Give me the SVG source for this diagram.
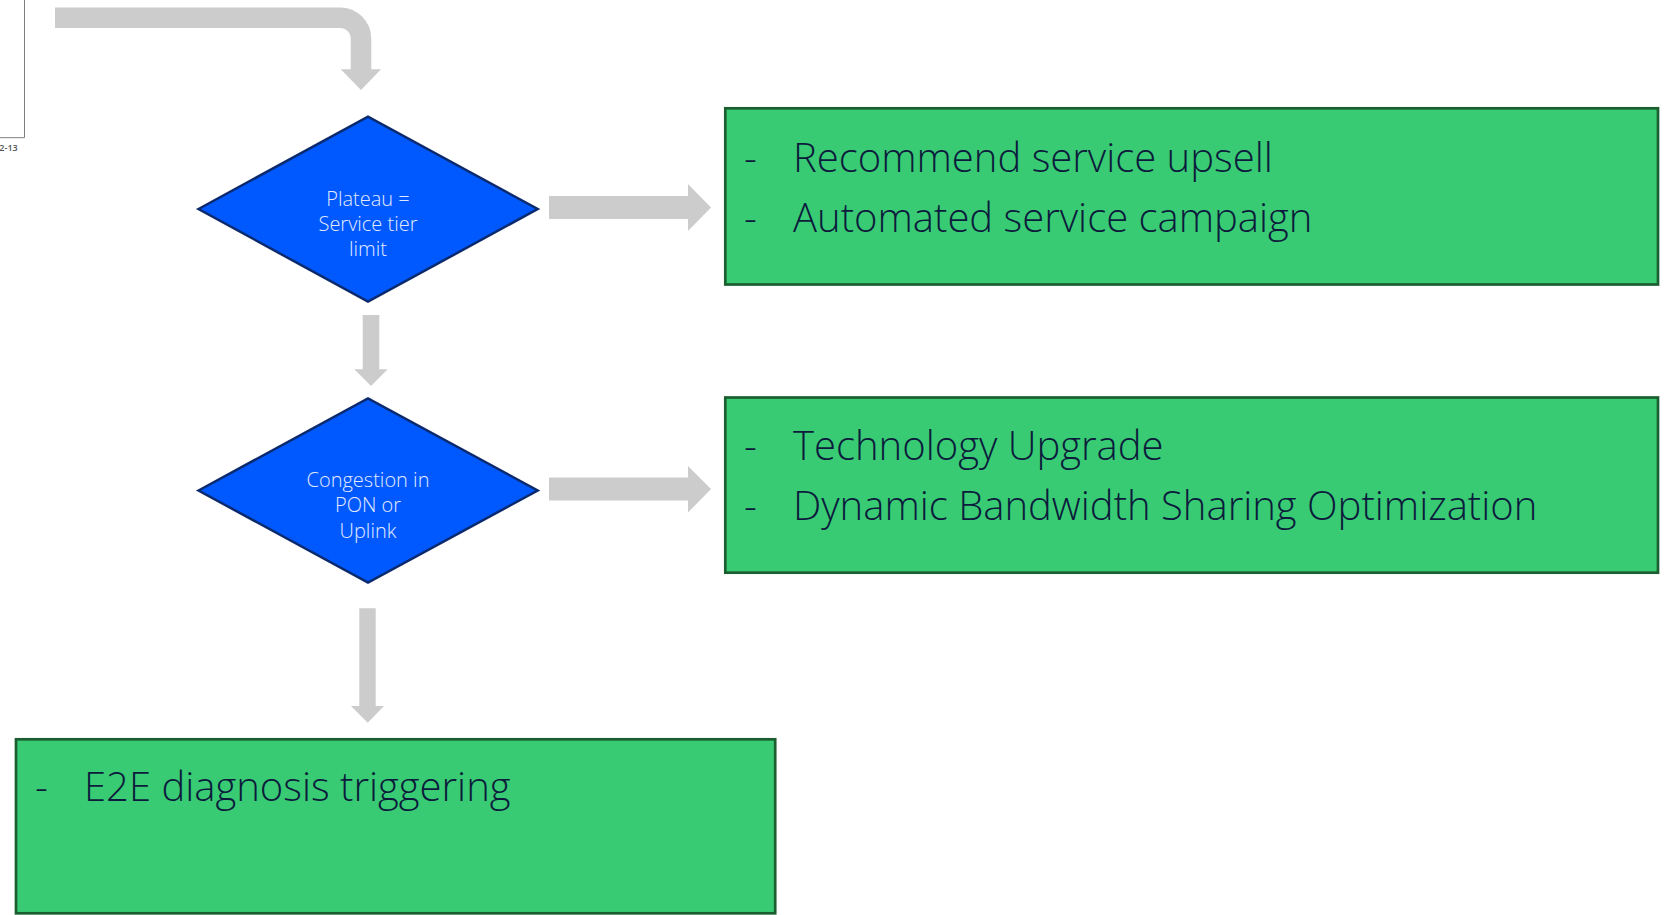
<svg xmlns="http://www.w3.org/2000/svg" width="1665" height="915" viewBox="0 0 1665 915">
<style>
.conn{fill:#cccccc;stroke:none}
.band{fill:none;stroke:#cccccc;stroke-width:20.5}
.dia{fill:#0059ff;stroke:#0b2a6e;stroke-width:2.5;stroke-linejoin:miter}
.dtxt{font-family:"Open Sans","Noto Sans","Liberation Sans",sans-serif;font-weight:300;font-size:20px;fill:#e3eaff;text-anchor:middle}
.box{fill:#38cb74;stroke:#1b5e30;stroke-width:2.7}
.btxt{font-family:"Open Sans","Noto Sans","Liberation Sans",sans-serif;font-weight:300;font-size:40px;fill:#0c1b3c}
.frame{fill:none;stroke:#7f7f7f;stroke-width:1}
.small{font-family:"Open Sans","Liberation Sans",sans-serif;font-weight:600;font-size:9px;fill:#555555;text-anchor:end}
</style>
<rect width="1665" height="915" fill="#ffffff"/>
<g id="page-fragment">
<path class="frame" d="M0,137.7 H24.5 V0"/>
<text class="small" x="17.7" y="151">2-13</text>
</g>
<g id="connectors">
<path class="band" d="M55,17.7 H340 A21,21 0 0 1 361,38.7 V70"/>
<polygon class="conn" points="340.7,69.3 381,69.3 361,90"/>
<polygon class="conn" points="549,196 688,196 688,184 711,207.5 688,231 688,219 549,219"/>
<polygon class="conn" points="362.7,315 379.3,315 379.3,369.3 387.7,369.3 371,386 354.3,369.3 362.7,369.3"/>
<polygon class="conn" points="549,477.5 688,477.5 688,466 711,489 688,512.5 688,500.5 549,500.5"/>
<polygon class="conn" points="359.3,608.3 375.7,608.3 375.7,706 384,706 367.7,722.7 351,706 359.3,706"/>
</g>
<g id="decision-plateau">
<polygon class="dia" points="198.5,209 368,116.7 537.7,209 368,301.7"/>
<text class="dtxt"><tspan x="368" y="206">Plateau =</tspan><tspan x="368" y="230.7">Service tier</tspan><tspan x="368" y="256">limit</tspan></text>
</g>
<g id="decision-congestion">
<polygon class="dia" points="198.5,490.5 368,398.3 537.7,490.5 368,582.7"/>
<text class="dtxt"><tspan x="368" y="486.7">Congestion in</tspan><tspan x="368" y="512.2">PON or</tspan><tspan x="368" y="537.7">Uplink</tspan></text>
</g>
<g id="action-upsell">
<rect class="box" x="725.3" y="108.3" width="932.7" height="176.2"/>
<text class="btxt"><tspan x="744" y="171.7">-</tspan><tspan x="793" y="171.7">Recommend service upsell</tspan><tspan x="744" y="231.7">-</tspan><tspan x="793" y="231.7">Automated service campaign</tspan></text>
</g>
<g id="action-upgrade">
<rect class="box" x="725.3" y="397.5" width="932.7" height="175.2"/>
<text class="btxt"><tspan x="744" y="460">-</tspan><tspan x="793" y="460">Technology Upgrade</tspan><tspan x="744" y="520">-</tspan><tspan x="793" y="520">Dynamic Bandwidth Sharing Optimization</tspan></text>
</g>
<g id="action-e2e">
<rect class="box" x="16" y="739.3" width="759.2" height="174"/>
<text class="btxt"><tspan x="35" y="801">-</tspan><tspan x="84" y="801">E2E diagnosis triggering</tspan></text>
</g>
</svg>
